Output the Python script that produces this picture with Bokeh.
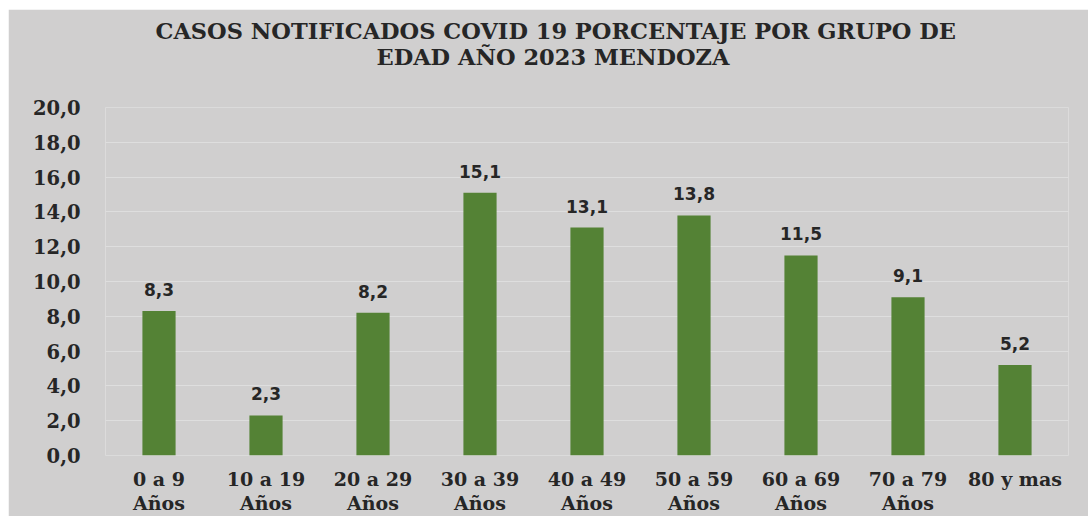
from bokeh.plotting import figure
from bokeh.models import ColumnDataSource, LabelSet, FixedTicker, CustomJSTickFormatter, Range1d, Title
from bokeh.core.properties import value
from bokeh.embed import file_html
from bokeh.resources import INLINE

categories = ["0 a 9\nAños", "10 a 19\nAños", "20 a 29\nAños", "30 a 39\nAños", "40 a 49\nAños",
              "50 a 59\nAños", "60 a 69\nAños", "70 a 79\nAños", "80 y mas"]
values = [8.3, 2.3, 8.2, 15.1, 13.1, 13.8, 11.5, 9.1, 5.2]
y_ticks = [0, 2, 4, 6, 8, 10, 12, 14, 16, 18, 20]
title_line1 = "CASOS NOTIFICADOS COVID 19 PORCENTAJE POR GRUPO DE"
title_line2 = "EDAD AÑO 2023 MENDOZA"

BG = "#d0cfcf"
GRID = "#dedede"
TXT = "#262626"
FONT = "DejaVu Serif"

labels = [f"{v:.1f}".replace(".", ",") for v in values]
src = ColumnDataSource(data=dict(cat=categories, val=values, lab=labels))

p = figure(x_range=categories, y_range=Range1d(0, 20), width=1080, height=507,
           output_backend="svg", toolbar_location=None,
           min_border_left=97, min_border_right=20, min_border_top=98, min_border_bottom=61)
p.margin = (9, 0, 0, 8)

p.vbar(x="cat", top="val", width=0.31, source=src, color="#548235", line_color=None)

p.add_layout(LabelSet(x="cat", y="val", text="lab", source=src, text_align="center",
                      text_baseline="alphabetic", y_offset=15, text_font=value("DejaVu Sans"),
                      text_font_size=value("17px"), text_font_style="bold", text_color=TXT))

p.background_fill_color = BG
p.border_fill_color = BG
p.outline_line_color = None

# spacer between title block and plot frame
p.add_layout(Title(text=" ", standoff=27, text_font_size="10px"), "above")
for txt, off, sd in ((title_line2, 271, -4), (title_line1, 50, 0)):
    t = Title(text=txt, align="left", offset=off, standoff=sd, text_font=FONT,
              text_font_size="22.5px", text_font_style="bold", text_color=TXT)
    p.add_layout(t, "above")

p.xgrid.grid_line_color = None
p.ygrid.grid_line_color = GRID
p.ygrid.grid_line_width = 1.2

p.yaxis.ticker = FixedTicker(ticks=y_ticks)
p.yaxis.formatter = CustomJSTickFormatter(code="return tick.toFixed(1).replace('.', ',');")

for ax in (p.xaxis, p.yaxis):
    ax.axis_line_color = None
    ax.major_tick_line_color = None
    ax.minor_tick_line_color = None
    ax.major_tick_out = 0
    ax.major_tick_in = 0
    ax.major_label_text_font = FONT
    ax.major_label_text_font_style = "bold"
    ax.major_label_text_color = TXT

p.yaxis.major_label_text_font_size = "19.5px"
p.yaxis.major_label_standoff = 25
p.xaxis.major_label_text_font_size = "19px"
p.xaxis.major_label_standoff = 12
p.xaxis.major_label_text_line_height = 1.1

open("out.html", "w").write(file_html(p, INLINE))
